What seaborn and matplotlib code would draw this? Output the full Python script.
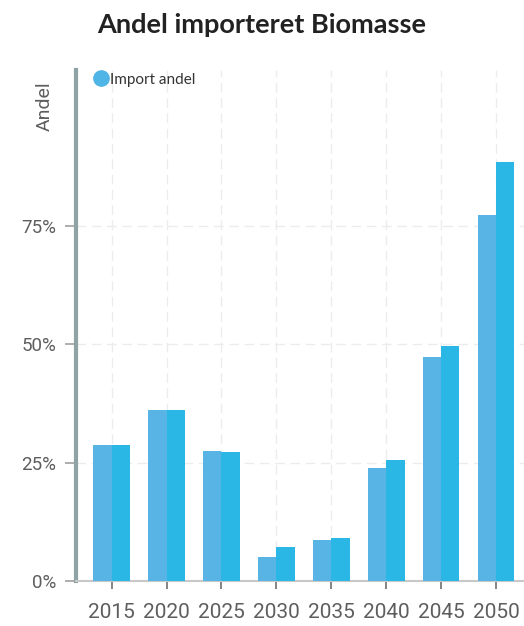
import pandas as pd
import numpy as np
import matplotlib
matplotlib.use("Agg")
import matplotlib.pyplot as plt
from matplotlib.lines import Line2D
import seaborn as sns

# data (share of imported biomass, %)
years = ['2015', '2020', '2025', '2030', '2035', '2040', '2045', '2050']
series_names = ['Import andel', 'Import andel B']
import_a = [28.7, 36.1, 27.5, 5.0, 8.7, 23.9, 47.3, 77.4]
import_b = [28.7, 36.1, 27.3, 7.1, 9.0, 25.6, 49.6, 88.5]
colors = ['#58b4e4', '#2bb7e5']

df = pd.DataFrame({
    'year': years * 2,
    'serie': [series_names[0]] * len(years) + [series_names[1]] * len(years),
    'andel': import_a + import_b,
})

sns.set_style('white')
plt.rcParams['font.family'] = ['Roboto', 'DejaVu Sans']

fig = plt.figure(figsize=(5.24, 6.26), dpi=100)
ax = fig.add_axes([76 / 524, 1 - 581 / 626, 448 / 524, 511 / 626])

sns.barplot(data=df, x='year', y='andel', hue='serie', order=years,
            hue_order=series_names, palette=colors, width=0.67,
            saturation=1, linewidth=0, ax=ax, legend=False, zorder=3)

ax.set_xlim(-0.65, 7.51)
ax.set_ylim(0, 108)
ax.set_yticks([0, 25, 50, 75])
ax.set_yticklabels([f'{v}%' for v in [0, 25, 50, 75]])

# grid
ax.grid(True, axis='both', color='#ececec', linestyle=(0, (7, 4)), linewidth=1, zorder=0)
ax.set_axisbelow(True)

for s in ['top', 'right']:
    ax.spines[s].set_visible(False)
ax.spines['left'].set_color('#8fa3a6')
ax.spines['left'].set_linewidth(3)
ax.spines['bottom'].set_color('#c8c8c8')
ax.spines['bottom'].set_linewidth(1.5)

ax.tick_params(axis='y', length=8, width=1.2, color='#a0a0a0', labelsize=13.5,
               labelcolor='#5e5e5e', pad=6, left=True)
ax.tick_params(axis='x', length=6, width=1.2, color='#707070', labelsize=15,
               labelcolor='#5e5e5e', pad=10, bottom=True)

ax.set_xlabel('')
ax.set_ylabel('Andel', fontsize=14, color='#5e5e5e')
ax.yaxis.set_label_coords(-0.05, 0.93)

handle = Line2D([], [], marker='o', linestyle='', markersize=11,
                markerfacecolor='#4fb4e6', markeredgecolor='#4fb4e6')
leg = ax.legend([handle], [series_names[0]], loc='upper left', frameon=False,
                handletextpad=0.0, borderaxespad=0.1, handlelength=1.2,
                bbox_to_anchor=(0.018, 1.01), prop={'family': 'Lato', 'size': 11})
for t in leg.get_texts():
    t.set_color('#333333')

fig.suptitle('Andel importeret Biomasse', x=0.5, y=0.98, fontsize=19.5,
             fontweight='bold', color='#222222', family='Lato')

fig.savefig('out.png', dpi=100)
